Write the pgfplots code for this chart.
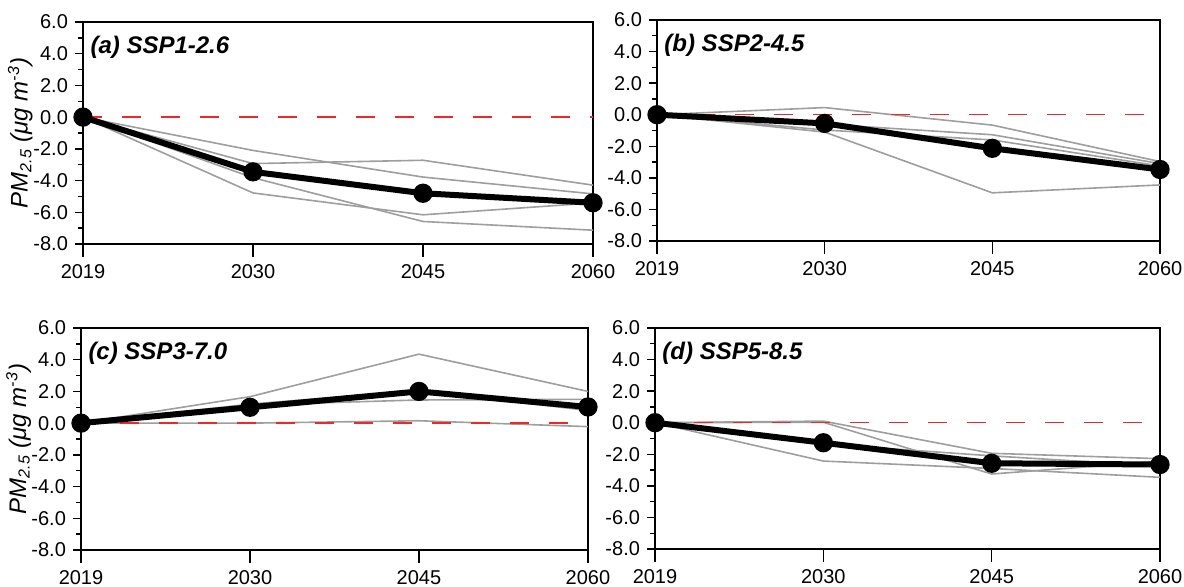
\documentclass[border=0pt]{standalone}
\usepackage{fontspec}
\setmainfont{Liberation Sans}
\usepackage{pgfplots}
\usepackage{pgfplotstable}
\pgfplotsset{compat=1.18}

\definecolor{lgray}{RGB}{158,158,158}
\definecolor{dred}{RGB}{238,40,40}

\pgfplotstableread{
x m g1 g2 g3 g4
0 0 0 0 0 0
1 -3.45 -2.10 -2.93 -3.82 -4.78
2 -4.80 -3.78 -2.72 -6.58 -6.16
3 -5.40 -4.84 -4.29 -7.13 -5.41
}\tabA
\pgfplotstableread{
x m g1 g2 g3 g4
0 0 0 0 0 0
1 -0.55 0.45 -1.10 -0.60 -0.97
2 -2.13 -0.66 -4.95 -1.27 -1.60
3 -3.47 -2.97 -4.45 -3.10 -3.25
}\tabB
\pgfplotstableread{
x m g1 g2 g3 g4
0 0 0 0 0 0
1 1.00 1.67 1.15 0.00 1.20
2 2.00 4.35 1.46 0.15 2.05
3 1.02 2.00 1.50 -0.22 0.80
}\tabC
\pgfplotstableread{
x m g1 g2 g3 g4
0 0 0 0 0 0
1 -1.27 0.10 0.03 -2.43 -1.35
2 -2.57 -1.94 -3.25 -2.90 -2.10
3 -2.65 -2.28 -2.45 -3.46 -2.75
}\tabD

\tikzset{zline/.style={dred, line width=0.8pt, dash pattern=on 9.5pt off 10pt}}

\pgfplotsset{
  panel/.style={
    scale only axis, height=111pt,
    xmin=0, xmax=3, ymin=-8, ymax=6,
    xtick={0,1,2,3}, xticklabels={2019,2030,2045,2060},
    ytick={-8,-6,-4,-2,0,2,4,6},
    yticklabels={-8.0,-6.0,-4.0,-2.0,0.0,2.0,4.0,6.0},
    minor y tick num=1,
    tick align=outside, major tick length=4pt, minor tick length=2.5pt,
    xtick style={draw=none},
    xticklabel style={yshift=-2.5pt},
    ytick pos=left, xtick pos=bottom,
    tick label style={font=\fontsize{10}{12}\selectfont},
    axis line style={line width=0.7pt},
    tick style={line width=0.7pt, black},
    clip=false,
    ylabel style={at={(axis description cs:-0.123,0.5)}, anchor=center, font=\fontsize{12}{14}\selectfont\itshape},
  },
  gline/.style={lgray, line width=0.8pt, no marks},
  mline/.style={black, line width=3pt, mark=*, mark size=3.3pt, mark options={solid}},
}

\newcommand{\panelcontent}[2]{%
  \addplot[gline] table[x=x,y=g1]{#1};
  \addplot[gline] table[x=x,y=g2]{#1};
  \addplot[gline] table[x=x,y=g3]{#1};
  \addplot[gline] table[x=x,y=g4]{#1};
  \draw[zline] (axis cs:0,0) -- (axis cs:3,0);
  \addplot[mline] table[x=x,y=m]{#1};
  \pgfplotsinvokeforeach{0,1,2,3}{\draw[black, line width=0.7pt] ([yshift=-6.5pt]axis cs:##1,-8) -- (axis cs:##1,-8);}
  \node[anchor=north west, inner sep=0pt, font=\fontsize{12}{14}\selectfont\bfseries\itshape]
    at ([yshift=-7pt]rel axis cs:0.014,1) {#2};
}

\begin{document}
\begin{tikzpicture}
\useasboundingbox (0,0) rectangle (592pt,293.5pt);
\begin{axis}[panel, at={(41.5pt,171.5pt)}, anchor=south west, width=255pt,
  ylabel={PM\textsubscript{2.5} (μg m\textsuperscript{-3})}]
  \panelcontent{\tabA}{(a) SSP1-2.6}
\end{axis}
\begin{axis}[panel, at={(328.5pt,173pt)}, anchor=south west, width=251.5pt, height=110.5pt]
  \panelcontent{\tabB}{(b) SSP2-4.5}
\end{axis}
\begin{axis}[panel, at={(40.5pt,18.5pt)}, anchor=south west, width=253.5pt,
  ylabel={PM\textsubscript{2.5} (μg m\textsuperscript{-3})}]
  \panelcontent{\tabC}{(c) SSP3-7.0}
\end{axis}
\begin{axis}[panel, at={(327.5pt,19pt)}, anchor=south west, width=252.5pt, height=110.5pt]
  \panelcontent{\tabD}{(d) SSP5-8.5}
\end{axis}
\end{tikzpicture}
\end{document}
